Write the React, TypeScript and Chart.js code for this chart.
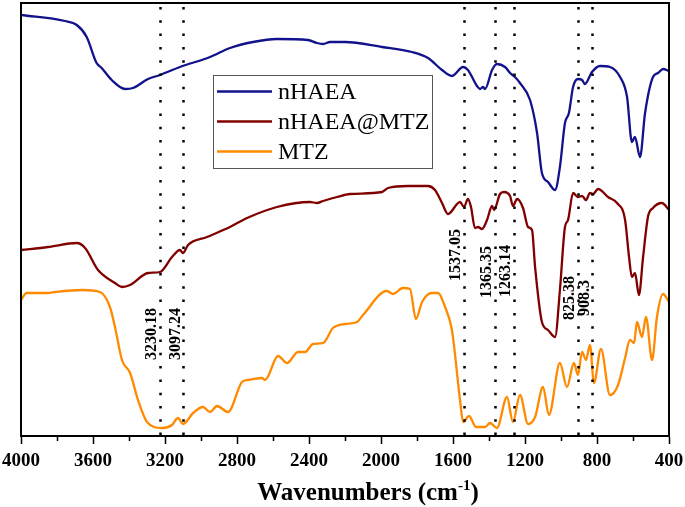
import React, { useEffect, useRef } from 'react';
import { Chart, registerables } from 'chart.js';

Chart.register(...registerables);

// ---------- DATA ----------
const seriesNames = ['nHAEA', 'nHAEA@MTZ', 'MTZ'];

// nHAEA (wavenumber cm-1, transmittance a.u.)
const nhaeaWn = [4000, 3756, 3690, 3635, 3580, 3552, 3496, 3422, 3378, 3294, 3228, 3117, 2950, 2839, 2711, 2578, 2406, 2356, 2322, 2283, 2200, 1994, 1828, 1739, 1661, 1606, 1544, 1517, 1467, 1450, 1433, 1422, 1383, 1356, 1311, 1283, 1256, 1228, 1172, 1133, 1106, 1072, 1033, 1006, 978, 956, 933, 906, 883, 867, 828, 783, 728, 672, 633, 606, 589, 561, 533, 489, 461, 433, 400];
const nhaeaT = [421, 415, 411, 399, 373, 368, 356, 347, 348, 357, 361, 369, 379, 388, 394, 397, 396, 393, 392, 394, 394, 389, 384, 378, 366, 360, 369, 366, 350, 347, 349, 347, 366, 372, 369, 363, 359, 353, 336, 303, 263, 254, 246, 269, 313, 323, 349, 357, 356, 352, 364, 370, 369, 359, 339, 294, 299, 279, 323, 359, 363, 367, 365];

// nHAEA@MTZ
const compWn = [4000, 3850, 3690, 3644, 3572, 3478, 3439, 3394, 3294, 3228, 3161, 3117, 3100, 3072, 2967, 2839, 2744, 2578, 2394, 2356, 2322, 2244, 2172, 1994, 1961, 1850, 1739, 1700, 1661, 1628, 1561, 1539, 1517, 1500, 1478, 1461, 1439, 1411, 1383, 1372, 1339, 1317, 1283, 1267, 1244, 1211, 1183, 1161, 1144, 1106, 1072, 1033, 1006, 978, 961, 933, 906, 883, 861, 839, 822, 794, 739, 689, 644, 622, 606, 589, 567, 544, 517, 489, 439, 400];
const compT = [186, 189, 193, 188, 166, 153, 149, 151, 163, 164, 179, 186, 183, 191, 199, 209, 218, 229, 234, 233, 235, 239, 242, 244, 248, 250, 250, 246, 233, 222, 234, 229, 237, 229, 208, 209, 207, 216, 230, 226, 242, 244, 240, 230, 237, 228, 209, 206, 169, 114, 106, 99, 146, 209, 216, 243, 239, 240, 236, 243, 242, 247, 239, 233, 216, 179, 159, 163, 141, 179, 219, 228, 233, 226];

// MTZ
const mtzWn = [4000, 3969, 3850, 3811, 3661, 3561, 3506, 3478, 3439, 3394, 3350, 3300, 3217, 3161, 3128, 3100, 3044, 2989, 2950, 2911, 2850, 2772, 2739, 2661, 2644, 2572, 2522, 2461, 2422, 2378, 2322, 2267, 2200, 2133, 2100, 1967, 1933, 1878, 1839, 1806, 1772, 1717, 1683, 1644, 1606, 1561, 1544, 1511, 1472, 1422, 1394, 1356, 1300, 1267, 1228, 1183, 1144, 1100, 1067, 1006, 967, 928, 906, 883, 861, 839, 817, 778, 728, 683, 644, 617, 594, 578, 550, 528, 494, 467, 433, 400];
const mtzT = [136, 143, 143, 144, 146, 144, 129, 109, 76, 63, 36, 14, 8, 11, 18, 12, 23, 29, 24, 30, 24, 54, 56, 58, 56, 80, 73, 84, 84, 92, 93, 108, 112, 114, 121, 145, 142, 148, 147, 117, 134, 143, 143, 129, 106, 36, 14, 20, 9, 9, 13, 8, 39, 14, 41, 12, 19, 49, 21, 73, 49, 73, 61, 84, 76, 91, 53, 87, 41, 51, 78, 96, 93, 114, 99, 119, 76, 119, 142, 134];

// Marked peaks (dotted lines) and their printed labels
const peakWn = [3230.18, 3097.24, 1537.05, 1365.35, 1263.14, 908.3, 825.38];
const peakText = ['3230.18', '3097.24', '1537.05', '1365.35', '1263.14', '825.38', '908.3'];

// ---------- STYLE / LAYOUT ----------
const colors = ['#12128c', '#800000', '#ff8a00'];
const peakLabelBase = [76, 76, 155, 138, 139, 116, 120]; // label start heights (a.u.)
const FONT = '"Liberation Serif", "Times New Roman", serif';

const overlayPlugin = {
  id: 'overlay',
  afterDatasetsDraw(chart: any) {
    const { ctx, chartArea: a, scales } = chart;
    const x = scales.x;
    const y = scales.y;
    ctx.save();

    // dotted peak lines
    ctx.strokeStyle = '#000';
    ctx.lineWidth = 2.5;
    ctx.setLineDash([2.5, 10.8]);
    peakWn.forEach((w) => {
      const px = Math.round(x.getPixelForValue(w)) + 0.5;
      ctx.beginPath();
      ctx.moveTo(px, a.top + 4);
      ctx.lineTo(px, a.bottom);
      ctx.stroke();
    });
    ctx.setLineDash([]);

    // rotated peak labels
    ctx.font = `bold 16px ${FONT}`;
    ctx.fillStyle = '#000';
    ctx.textAlign = 'left';
    ctx.textBaseline = 'middle';
    peakText.forEach((t, i) => {
      const px = x.getPixelForValue(peakWn[i]) - 8;
      const py = y.getPixelForValue(peakLabelBase[i]);
      ctx.save();
      ctx.translate(px, py);
      ctx.rotate(-Math.PI / 2);
      ctx.fillText(t, 0, 0);
      ctx.restore();
    });

    // frame
    ctx.strokeStyle = '#000';
    ctx.lineWidth = 2;
    ctx.strokeRect(a.left, a.top, a.right - a.left, a.bottom - a.top);

    // minor ticks
    ctx.lineWidth = 1.5;
    for (let w = 3800; w > 400; w -= 400) {
      const px = Math.round(x.getPixelForValue(w)) + 0.5;
      ctx.beginPath();
      ctx.moveTo(px, a.bottom);
      ctx.lineTo(px, a.bottom + 5);
      ctx.stroke();
    }

    // legend
    const lx = 213.5, ly = 75.5, lw = 219, lh = 93;
    ctx.fillStyle = '#fff';
    ctx.fillRect(lx, ly, lw, lh);
    ctx.strokeStyle = '#555';
    ctx.lineWidth = 1;
    ctx.strokeRect(lx, ly, lw, lh);
    ctx.font = `24px ${FONT}`;
    ctx.textAlign = 'left';
    ctx.textBaseline = 'middle';
    seriesNames.forEach((n, i) => {
      const yy = 91.5 + i * 30;
      ctx.strokeStyle = colors[i];
      ctx.lineWidth = 2.5;
      ctx.beginPath();
      ctx.moveTo(217, yy);
      ctx.lineTo(272, yy);
      ctx.stroke();
      ctx.fillStyle = '#000';
      ctx.fillText(n, 278, yy + 1);
    });

    // axis title with superscript
    const cx = 368;
    const base = 500;
    ctx.fillStyle = '#000';
    ctx.textBaseline = 'alphabetic';
    ctx.textAlign = 'left';
    const main = 'Wavenumbers (cm';
    const sup = '-1';
    const close = ')';
    ctx.font = `bold 25px ${FONT}`;
    const w1 = ctx.measureText(main).width;
    const w3 = ctx.measureText(close).width;
    ctx.font = `bold 15px ${FONT}`;
    const w2 = ctx.measureText(sup).width;
    const start = cx - (w1 + w2 + w3) / 2;
    ctx.font = `bold 25px ${FONT}`;
    ctx.fillText(main, start, base);
    ctx.font = `bold 15px ${FONT}`;
    ctx.fillText(sup, start + w1, base - 10);
    ctx.font = `bold 25px ${FONT}`;
    ctx.fillText(close, start + w1 + w2, base);

    ctx.restore();
  },
};

export default function App() {
  const ref = useRef<HTMLCanvasElement | null>(null);

  useEffect(() => {
    document.body.style.margin = '0';
    const canvas = ref.current;
    if (!canvas) return;
    const mk = (wn: number[], t: number[]) => wn.map((w, i) => ({ x: w, y: t[i] }));
    const chart = new Chart(canvas, {
      type: 'line',
      data: {
        datasets: [
          { label: seriesNames[0], data: mk(nhaeaWn, nhaeaT), borderColor: colors[0] },
          { label: seriesNames[1], data: mk(compWn, compT), borderColor: colors[1] },
          { label: seriesNames[2], data: mk(mtzWn, mtzT), borderColor: colors[2] },
        ].map((d) => ({
          ...d,
          borderWidth: 2.3,
          pointRadius: 0,
          fill: false,
          cubicInterpolationMode: 'monotone' as const,
        })),
      },
      options: {
        responsive: false,
        animation: false,
        devicePixelRatio: 1,
        layout: { padding: { left: 0, right: 16, top: 3, bottom: 0 } },
        plugins: {
          legend: { display: false },
          tooltip: { enabled: false },
          title: { display: false },
        },
        scales: {
          x: {
            type: 'linear',
            reverse: true,
            min: 400,
            max: 4000,
            ticks: {
              stepSize: 400,
              color: '#000',
              font: { family: FONT, size: 19, weight: 'bold' },
              padding: 6,
              maxRotation: 0,
              autoSkip: false,
              callback: (v: any) => String(v),
            },
            grid: {
              display: true,
              drawOnChartArea: false,
              drawTicks: true,
              tickLength: 8,
              tickWidth: 1.5,
              tickColor: '#000',
            },
            border: { display: true, color: '#000', width: 2 },
            afterFit: (s: any) => {
              s.height = 71;
              s.paddingLeft = 0;
              s.paddingRight = 0;
            },
          },
          y: {
            min: 0,
            max: 433,
            ticks: { display: false },
            grid: { display: false },
            border: { display: true, color: '#000', width: 2 },
            afterFit: (s: any) => {
              s.width = 21;
            },
          },
        },
      },
      plugins: [overlayPlugin],
    } as any);
    return () => chart.destroy();
  }, []);

  return (
    <div style={{ width: 685, height: 507 }}>
      <canvas ref={ref} width={685} height={507} style={{ display: 'block' }} />
    </div>
  );
}
